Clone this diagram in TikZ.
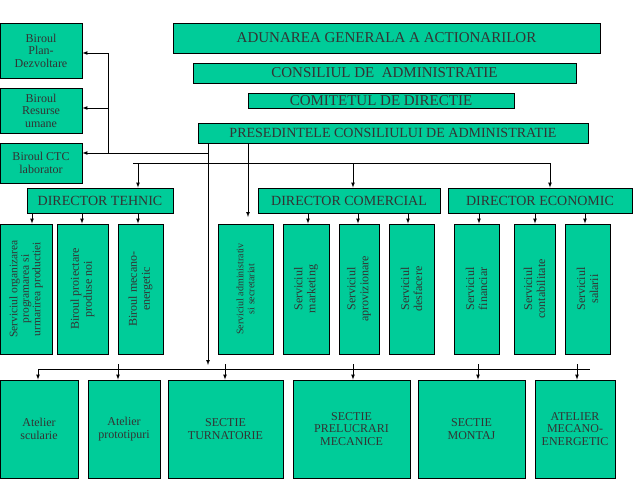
\documentclass[tikz,border=0pt]{standalone}
\usepackage{fontspec}
\setmainfont{Liberation Serif}
\begin{document}
\begin{tikzpicture}[x=1pt,y=-1pt,
 box/.style={draw=black,line width=0.8pt,fill=tealgreen,inner sep=0pt,align=center,text=black!80,font=\fontsize{12}{12.5}\selectfont},
 vbox/.style={box,font=\fontsize{11.5}{11.5}\selectfont},
 big/.style={box,font=\fontsize{15}{15}\selectfont},
 mid/.style={box,font=\fontsize{14}{14}\selectfont},
 arr/.style={-latex,line width=0.7pt},
 ln/.style={line width=0.7pt}]
\definecolor{tealgreen}{RGB}{0,204,153}
\useasboundingbox (0,0) rectangle (638,479);
\newcommand{\bx}[6]{\node[#1,minimum width={#4-#2},minimum height={#5-#3}] (#6) at ({(#2+#4)/2},{(#3+#5)/2})}
% top left
\bx{box}{0}{23}{82}{78}{bp} {Biroul\\Plan-\\Dezvoltare};
\bx{box}{0}{88}{82}{133}{br} {Biroul\\Resurse\\umane};
\bx{box}{0}{143}{82}{183}{bc} {Biroul CTC\\laborator};
% top chain
\bx{big}{173}{23}{600}{53}{ad} {ADUNAREA GENERALA A ACTIONARILOR};
\bx{big}{193}{63}{576}{83}{co} {CONSILIUL DE\ \ ADMINISTRATIE};
\bx{big}{248}{93}{514}{108}{cm} {COMITETUL DE DIRECTIE};
\bx{mid}{198}{123}{588}{143}{pr} {PRESEDINTELE CONSILIULUI DE ADMINISTRATIE};
% directors
\bx{mid}{27}{188}{173}{213}{dt} {DIRECTOR TEHNIC};
\bx{mid}{258}{188}{440}{213}{dc} {DIRECTOR COMERCIAL};
\bx{mid}{448}{188}{632}{213}{de} {DIRECTOR ECONOMIC};
% vertical boxes
\bx{vbox}{0}{224}{52}{354}{v1} {};
\node[rotate=90,align=center,font=\fontsize{11.5}{11.5}\selectfont,text=black!80] at (v1) {Serviciul organizarea\\programarea si\\urmarirea productiei};
\bx{vbox}{57}{224}{108}{354}{v2} {};
\node[rotate=90,align=center,font=\fontsize{12}{13}\selectfont,text=black!80] at (v2) {Biroul proiectare\\produse noi};
\bx{vbox}{118}{224}{163}{354}{v3} {};
\node[rotate=90,align=center,font=\fontsize{12}{13}\selectfont,text=black!80] at (v3) {Biroul mecano-\\energetic};
\bx{vbox}{218}{224}{273}{354}{v4} {};
\node[rotate=90,align=center,font=\fontsize{10}{11}\selectfont,text=black!80] at (v4) {Serviciul administrativ\\si secretariat};
\bx{vbox}{283}{224}{329}{354}{v5} {};
\node[rotate=90,align=center,font=\fontsize{12}{13}\selectfont,text=black!80] at (v5) {Serviciul\\marketing};
\bx{vbox}{339}{224}{379}{354}{v6} {};
\node[rotate=90,align=center,font=\fontsize{12}{13}\selectfont,text=black!80] at (v6) {Serviciul\\aprovizionare};
\bx{vbox}{389}{224}{434}{354}{v7} {};
\node[rotate=90,align=center,font=\fontsize{12}{13}\selectfont,text=black!80] at (v7) {Serviciul\\desfacere};
\bx{vbox}{454}{224}{499}{354}{v8} {};
\node[rotate=90,align=center,font=\fontsize{12}{13}\selectfont,text=black!80] at (v8) {Serviciul\\financiar};
\bx{vbox}{514}{224}{555}{354}{v9} {};
\node[rotate=90,align=center,font=\fontsize{12}{13}\selectfont,text=black!80] at (v9) {Serviciul\\contabilitate};
\bx{vbox}{565}{224}{610}{354}{v10} {};
\node[rotate=90,align=center,font=\fontsize{12}{13}\selectfont,text=black!80] at (v10) {Serviciul\\salarii};
% bottom
\bx{box}{0}{380}{78}{478}{b1} {Atelier\\scularie};
\bx{box}{88}{380}{160}{478}{b2} {Atelier\\prototipuri};
\bx{box}{168}{380}{283}{478}{b3} {SECTIE\\TURNATORIE};
\bx{box}{293}{380}{410}{478}{b4} {SECTIE\\PRELUCRARI\\MECANICE};
\bx{box}{418}{380}{525}{478}{b5} {SECTIE\\MONTAJ};
\bx{box}{535}{380}{615}{478}{b6} {ATELIER\\MECANO-\\ENERGETIC};
% coordinates
\coordinate (t1) at (108,53);
\coordinate (t2) at (108,153);
\coordinate (t3) at (208,153);
\coordinate (h1) at (133,163);
\coordinate (h2) at (550,163);
\coordinate (bl) at (38,369);
\coordinate (brr) at (590,369);
% left offices
\draw[ln] (t1) -- (t2) -- (t3);
\draw[arr] (t1) -- (bp.east |- t1);
\draw[arr] (108,108) -- (br.east |- 0,108);
\draw[arr] (t2) -- (bc.east |- t2);
% president links
\draw[arr] (pr.south -| 208,0) -- (208,365);
\draw[arr] (pr.south -| 248,0) -- (248,217);
\draw[ln] (h1) -- (h2);
\draw[arr] (138,163) -- (dt.north -| 138,0);
\draw[arr] (353,163) -- (dc.north -| 353,0);
\draw[arr] (h2) -- (de.north -| h2);
% director links
\foreach \x/\t in {32/v1,82/v2,138/v3}{\draw[arr] (dt.south -| \x,0) -- (\t.north -| \x,0);}
\foreach \x/\t in {308/v5,358/v6,408/v7}{\draw[arr] (dc.south -| \x,0) -- (\t.north -| \x,0);}
\foreach \x/\t in {479/v8,535/v9,585/v10}{\draw[arr] (de.south -| \x,0) -- (\t.north -| \x,0);}
% bottom bus
\draw[ln] (bl) -- (brr);
\draw[arr] (bl) -- (b1.north -| bl);
\foreach \x/\t in {118/b2,225/b3,353/b4,478/b5,577/b6}{\draw[arr] (\x,364) -- (\t.north -| \x,0);}
\end{tikzpicture}
\end{document}
